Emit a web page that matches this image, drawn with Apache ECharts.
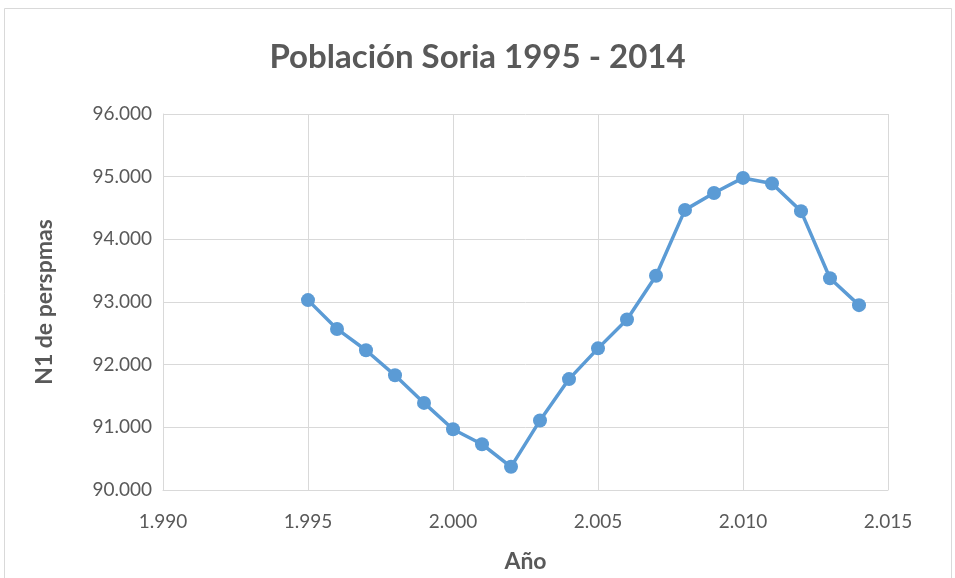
<!DOCTYPE html>
<html><head><meta charset="utf-8">
<script src="https://cdn.jsdelivr.net/npm/echarts@6/dist/echarts.min.js"></script>
<style>html,body{margin:0;padding:0;background:#fff}#c{width:955px;height:578px}</style>
</head><body><div id="c"></div>
<script>
const years = [1995,1996,1997,1998,1999,2000,2001,2002,2003,2004,2005,2006,2007,2008,2009,2010,2011,2012,2013,2014];
const population = [93030,92570,92230,91830,91390,90970,90730,90370,91110,91770,92260,92720,93420,94470,94740,94980,94890,94450,93380,92950];
const titleText = 'Población Soria 1995 - 2014';
const xTitle = 'Año';
const yTitle = 'N1 de perspmas';

function fmtThousands(v){
  const s = String(Math.round(v));
  return s.replace(/\B(?=(\d{3})+(?!\d))/g, '.');
}
const chart = echarts.init(document.getElementById('c'));
const font = 'Lato, "Open Sans", sans-serif';
chart.setOption({
  animation:false,
  title:{text:titleText,left:'center',top:36,textStyle:{fontFamily:font,fontSize:33,fontWeight:'bold',color:'#595959'}},
  graphic:[{type:'rect',shape:{x:4.5,y:8.5,width:947,height:580},style:{fill:null,stroke:'#d9d9d9',lineWidth:1}}],
  grid:{left:163,right:67,top:114,bottom:87},
  xAxis:{type:'value',min:1990,max:2015,interval:5,
    name:xTitle,nameLocation:'middle',nameGap:60,
    nameTextStyle:{fontFamily:font,fontSize:23,fontWeight:'bold',color:'#595959'},
    axisLine:{show:true,lineStyle:{color:'#d9d9d9',width:1}},axisTick:{show:false},
    axisLabel:{fontFamily:font,fontSize:19,color:'#595959',margin:22,formatter:v=>fmtThousands(v)},
    splitLine:{show:true,lineStyle:{color:'#d9d9d9',width:1}}},
  yAxis:{type:'value',min:90000,max:96000,interval:1000,
    name:yTitle,nameLocation:'middle',nameGap:107,
    nameTextStyle:{fontFamily:font,fontSize:23,fontWeight:'bold',color:'#595959'},
    axisLine:{show:true,lineStyle:{color:'#d9d9d9',width:1}},axisTick:{show:false},
    axisLabel:{fontFamily:font,fontSize:19,color:'#595959',margin:11,formatter:v=>fmtThousands(v)},
    splitLine:{show:true,lineStyle:{color:'#d9d9d9',width:1}}},
  series:[{type:'line',data:years.map((y,i)=>[y,population[i]]),
    symbol:'circle',symbolSize:14,
    lineStyle:{color:'#5b9bd5',width:3.5},
    itemStyle:{color:'#5b9bd5'}}]
});
</script></body></html>
